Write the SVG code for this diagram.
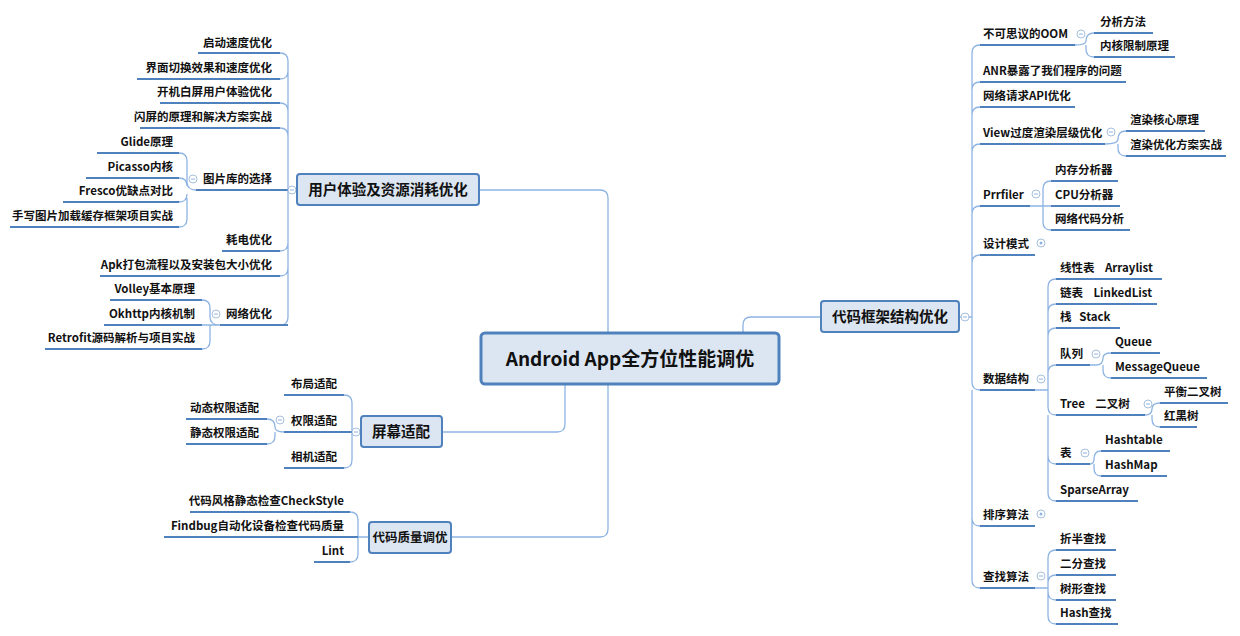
<svg xmlns="http://www.w3.org/2000/svg" width="1240" height="636" viewBox="0 0 1240 636">
<style>
text{font-family:"Microsoft YaHei","Noto Sans CJK SC",sans-serif;font-weight:bold;fill:#111}
.l{font-size:11.5px}
.e{text-anchor:end}
.t{font-size:14.5px;text-anchor:middle}
.c{font-size:19px;text-anchor:middle}
.u{stroke:#4f81bd;stroke-width:2;fill:none}
.k{stroke:#8eb4e3;stroke-width:1.3;fill:none}
.box{fill:#dce6f2;stroke:#4f81bd;stroke-width:2}
.o{fill:#fff;stroke:#a6bfdc;stroke-width:1}
.m{stroke:#8eb4e3;stroke-width:1}
</style>
<rect width="1240" height="636" fill="#fff"/>
<g id="connectors">
<path class="k" d="M479 190H600Q608 190 608 198V333M442 432H557Q565 432 565 424V384M451 537H600Q608 537 608 529V384M743 333V325Q743 317 751 317H821"/>
<path class="k" d="M297 190H288V61Q288 53 280 53M288 87V71Q288 79 280 79M288 111Q288 103 280 103M288 136Q288 128 280 128M288 190H280M288 243Q288 251 280 251M288 268Q288 276 280 276M288 190V317Q288 325 280 325M288 87V120"/>
<path class="k" d="M196 190Q187 190 187 182V161Q187 153 179 153M187 186Q187 178 179 178M187 194Q187 202 179 202M187 198V219Q187 227 179 227"/>
<path class="k" d="M220 325Q210 325 210 317V308Q210 300 202 300M220 325H202M210 325V341Q210 349 202 349"/>
<path class="k" d="M361 432H352V403Q352 395 344 395M352 432H344M352 432V460Q352 468 344 468"/>
<path class="k" d="M284 432Q275 432 275 427Q275 419 267 419M275 432V436Q275 444 267 444"/>
<path class="k" d="M369 537H358V520Q358 512 350 512M358 537H350M358 537V554Q358 562 350 562"/>
<path class="k" d="M959 317H972V53Q972 45 980 45M972 90Q972 82 980 82M972 115Q972 107 980 107M972 152Q972 144 980 144M972 214Q972 206 980 206M972 263Q972 255 980 255M972 317V382Q972 390 980 390M972 518Q972 526 980 526M972 390V580Q972 588 980 588"/>
<path class="k" d="M1075 45Q1086 45 1086 41Q1086 33 1094 33M1086 45V49Q1086 57 1094 57"/>
<path class="k" d="M1105 144Q1118 144 1118 139Q1118 131 1126 131M1118 144V148Q1118 156 1126 156"/>
<path class="k" d="M1030 206H1043V189Q1043 181 1051 181M1043 206H1051M1043 206V222Q1043 230 1051 230"/>
<path class="k" d="M1035 390H1048V287Q1048 279 1056 279M1048 312Q1048 304 1056 304M1048 336Q1048 328 1056 328M1048 373Q1048 365 1056 365M1048 390V407Q1048 415 1056 415M1048 456Q1048 464 1056 464M1048 415V493Q1048 501 1056 501"/>
<path class="k" d="M1090 365H1096Q1103 365 1103 358Q1103 353 1111 353M1103 365V370Q1103 378 1111 378"/>
<path class="k" d="M1145 415Q1152 415 1152 409Q1152 403 1160 403M1152 415V419Q1152 427 1160 427"/>
<path class="k" d="M1090 464Q1094 464 1094 459Q1094 451 1101 451M1094 464V468Q1094 476 1101 476"/>
<path class="k" d="M1035 588H1048V558Q1048 550 1056 550M1048 583Q1048 575 1056 575M1048 592Q1048 600 1056 600M1048 588V616Q1048 624 1056 624"/>
</g>
<g id="underlines">
<path class="u" d="M198 53H280M137 79H280M160 103H280M140 128H280M196 190H288M222 251H280M100 276H280M220 325H288M97 153H179M86 178H179M63 202H179M10 227H179M110 300H202M104 325H202M45 349H202M284 395H344M284 432H352M284 468H344M186 419H267M186 444H267M190 512H350M164 537H358M314 562H350"/>
<path class="u" d="M980 45H1075M980 82H1126M980 107H1075M980 144H1105M980 206H1030M980 255H1035M980 390H1035M980 526H1035M980 588H1035M1094 33H1153M1094 57H1175M1126 131H1205M1126 156H1226M1051 181H1118M1051 206H1120M1051 230H1130M1056 279H1162M1056 304H1157M1056 328H1120M1056 365H1090M1056 415H1145M1056 464H1090M1056 501H1138M1111 353H1160M1111 378H1207M1160 403H1228M1160 427H1197M1101 451H1170M1101 476H1167M1056 550H1116M1056 575H1116M1056 600H1116M1056 624H1118"/>
</g>
<g id="toggles">
<circle class="o" cx="292" cy="190" r="4"/><circle class="o" cx="193" cy="179" r="4"/><circle class="o" cx="216" cy="314" r="4"/>
<circle class="o" cx="356" cy="432" r="4"/><circle class="o" cx="280" cy="420" r="4"/><circle class="o" cx="965" cy="317" r="4"/>
<circle class="o" cx="1081" cy="34" r="4"/><circle class="o" cx="1111" cy="132" r="4"/><circle class="o" cx="1036" cy="194" r="4"/>
<circle class="o" cx="1041" cy="243" r="4"/><circle class="o" cx="1041" cy="379" r="4"/><circle class="o" cx="1096" cy="354" r="4"/>
<circle class="o" cx="1148" cy="404" r="4"/><circle class="o" cx="1085" cy="453" r="4"/><circle class="o" cx="1041" cy="514" r="4"/><circle class="o" cx="1041" cy="576" r="4"/>
<path class="m" d="M290 190h4M191 179h4M214 314h4M354 432h4M278 420h4M963 317h4M1079 34h4M1109 132h4M1034 194h4M1039 379h4M1094 354h4M1146 404h4M1083 453h4M1039 576h4"/>
<circle cx="1041" cy="243" r="1.5" fill="#8eb4e3"/><circle cx="1041" cy="514" r="1.5" fill="#8eb4e3"/>
</g>
<g id="center"><rect x="481" y="333" width="298" height="51" rx="4" class="box" style="stroke-width:3"/><text class="c" x="630" y="366">Android App全方位性能调优</text></g>
<g id="ux"><rect x="297" y="174" width="182" height="31" rx="3" class="box"/><text class="t" x="388" y="195">用户体验及资源消耗优化</text></g>
<g id="screen"><rect x="361" y="416" width="81" height="31" rx="3" class="box"/><text class="t" x="401" y="437">屏幕适配</text></g>
<g id="quality"><rect x="369" y="522" width="82" height="31" rx="3" class="box"/><text class="t" x="410" y="542" style="font-size:12.5px">代码质量调优</text></g>
<g id="framework"><rect x="821" y="301" width="138" height="31" rx="3" class="box"/><text class="t" x="890" y="322">代码框架结构优化</text></g>
<g id="left-labels">
<text class="l e" x="272" y="47">启动速度优化</text>
<text class="l e" x="272" y="72">界面切换效果和速度优化</text>
<text class="l e" x="272" y="96">开机白屏用户体验优化</text>
<text class="l e" x="272" y="121">闪屏的原理和解决方案实战</text>
<text class="l e" x="272" y="183">图片库的选择</text>
<text class="l e" x="173" y="146">Glide原理</text>
<text class="l e" x="173" y="171">Picasso内核</text>
<text class="l e" x="173" y="195">Fresco优缺点对比</text>
<text class="l e" x="173" y="220">手写图片加载缓存框架项目实战</text>
<text class="l e" x="272" y="244">耗电优化</text>
<text class="l e" x="272" y="269">Apk打包流程以及安装包大小优化</text>
<text class="l e" x="272" y="318">网络优化</text>
<text class="l e" x="195" y="293">Volley基本原理</text>
<text class="l e" x="195" y="318">Okhttp内核机制</text>
<text class="l e" x="195" y="342">Retrofit源码解析与项目实战</text>
<text class="l e" x="337" y="388">布局适配</text>
<text class="l e" x="337" y="425">权限适配</text>
<text class="l e" x="337" y="461">相机适配</text>
<text class="l e" x="259" y="412">动态权限适配</text>
<text class="l e" x="259" y="437">静态权限适配</text>
<text class="l e" x="344" y="505">代码风格静态检查CheckStyle</text>
<text class="l e" x="344" y="530">Findbug自动化设备检查代码质量</text>
<text class="l e" x="344" y="555">Lint</text>
</g>
<g id="right-labels">
<text class="l" x="983" y="38">不可思议的OOM</text>
<text class="l" x="1100" y="26">分析方法</text>
<text class="l" x="1100" y="50">内核限制原理</text>
<text class="l" x="983" y="75">ANR暴露了我们程序的问题</text>
<text class="l" x="983" y="100">网络请求API优化</text>
<text class="l" x="983" y="137">View过度渲染层级优化</text>
<text class="l" x="1130" y="124">渲染核心原理</text>
<text class="l" x="1130" y="149">渲染优化方案实战</text>
<text class="l" x="983" y="199">Prrfiler</text>
<text class="l" x="1055" y="174">内存分析器</text>
<text class="l" x="1055" y="199">CPU分析器</text>
<text class="l" x="1055" y="223">网络代码分析</text>
<text class="l" x="983" y="248">设计模式</text>
<text class="l" x="983" y="383">数据结构</text>
<text class="l" x="1060" y="272" xml:space="preserve">线性表    Arraylist</text>
<text class="l" x="1060" y="297" xml:space="preserve">链表    LinkedList</text>
<text class="l" x="1060" y="321" xml:space="preserve">栈   Stack</text>
<text class="l" x="1060" y="358">队列</text>
<text class="l" x="1115" y="346">Queue</text>
<text class="l" x="1115" y="371">MessageQueue</text>
<text class="l" x="1060" y="408" xml:space="preserve">Tree    二叉树</text>
<text class="l" x="1164" y="396">平衡二叉树</text>
<text class="l" x="1164" y="420">红黑树</text>
<text class="l" x="1060" y="457">表</text>
<text class="l" x="1105" y="444">Hashtable</text>
<text class="l" x="1105" y="469">HashMap</text>
<text class="l" x="1060" y="494">SparseArray</text>
<text class="l" x="983" y="519">排序算法</text>
<text class="l" x="983" y="581">查找算法</text>
<text class="l" x="1060" y="543">折半查找</text>
<text class="l" x="1060" y="568">二分查找</text>
<text class="l" x="1060" y="593">树形查找</text>
<text class="l" x="1060" y="617">Hash查找</text>
</g>
</svg>
